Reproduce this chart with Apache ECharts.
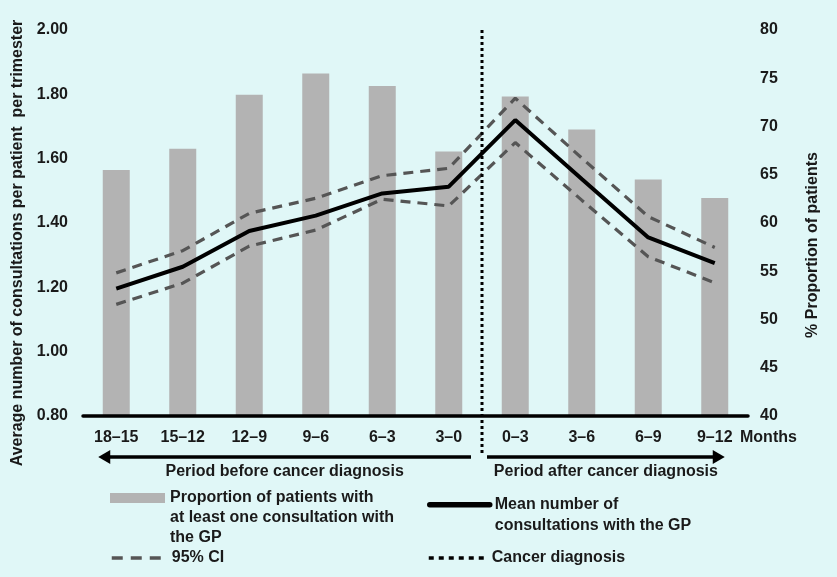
<!DOCTYPE html>
<html>
<head>
<meta charset="utf-8">
<script src="https://cdn.jsdelivr.net/npm/echarts@6/dist/echarts.min.js"></script>
<style>
html,body{margin:0;padding:0;background:#e0f7f7;}
#c{width:837px;height:577px;}
</style>
</head>
<body>
<div id="c"></div>
<script>
// ---- data ----
const categories = ['18–15','15–12','12–9','9–6','6–3','3–0','0–3','3–6','6–9','9–12'];
const proportionPct = [65.5, 67.7, 73.3, 75.5, 74.2, 67.4, 73.1, 69.7, 64.5, 62.6];
const meanConsult  = [1.196, 1.264, 1.375, 1.423, 1.492, 1.513, 1.720, 1.537, 1.355, 1.275];
const ciUpper      = [1.245, 1.314, 1.430, 1.477, 1.547, 1.570, 1.788, 1.602, 1.420, 1.324];
const ciLower      = [1.147, 1.213, 1.328, 1.378, 1.474, 1.453, 1.650, 1.471, 1.295, 1.214];
const leftAxisTicks  = [0.8, 1.0, 1.2, 1.4, 1.6, 1.8, 2.0];
const rightAxisTicks = [40, 45, 50, 55, 60, 65, 70, 75, 80];
const diagnosisAfterIndex = 5; // diagnosis falls between '3–0' and '0–3'

const barName  = 'Proportion of patients with\nat least one consultation with\nthe GP';
const meanName = 'Mean number of\nconsultations with the GP';
const ciName   = '95% CI';
const diagName = 'Cancer diagnosis';

const FONT = "'Liberation Sans', Arial, sans-serif";
const TXT = '#1a1a1a';
const BG = '#e0f7f7';

const chart = echarts.init(document.getElementById('c'), null, {renderer: 'canvas'});

const baseText = {fontFamily: FONT, fontSize: 16, fontWeight: 'bold', color: TXT};
// legend text: leading blank lines so the icon lines up with the first text line
const topAligned = name => '\n'.repeat(name.split('\n').length - 1) + name;

const option = {
  backgroundColor: BG,
  animation: false,
  textStyle: {fontFamily: FONT},
  grid: {left: 83, right: 89, top: 30, bottom: 161, containLabel: false, outerBoundsMode: 'none'},
  xAxis: {
    type: 'category',
    data: categories,
    boundaryGap: true,
    z: 5,
    axisLine: {lineStyle: {color: '#000', width: 3.5}},
    axisTick: {show: false},
    splitLine: {show: false},
    axisLabel: Object.assign({}, baseText, {margin: 14, interval: 0}),
    name: 'Months',
    nameLocation: 'end',
    nameGap: -8,
    nameMoveOverlap: false,
    nameTextStyle: Object.assign({}, baseText, {align: 'left', verticalAlign: 'top', padding: [14, 0, 0, 0]})
  },
  yAxis: [
    {
      type: 'value',
      position: 'left',
      min: leftAxisTicks[0],
      max: leftAxisTicks[leftAxisTicks.length - 1],
      interval: 0.2,
      axisLine: {show: false},
      axisTick: {show: false},
      splitLine: {show: false},
      axisLabel: Object.assign({}, baseText, {margin: 15, formatter: v => v.toFixed(2)}),
      name: 'Average number of consultations per patient  per trimester',
      nameLocation: 'middle',
      nameGap: 52,
      nameTextStyle: Object.assign({}, baseText, {padding: [0, 40, 0, 0]})
    },
    {
      type: 'value',
      position: 'right',
      min: rightAxisTicks[0],
      max: rightAxisTicks[rightAxisTicks.length - 1],
      interval: 5,
      axisLine: {show: false},
      axisTick: {show: false},
      splitLine: {show: false},
      axisLabel: Object.assign({}, baseText, {margin: 12}),
      name: '% Proportion of patients',
      nameLocation: 'middle',
      nameGap: 57,
      nameTextStyle: Object.assign({}, baseText, {padding: [0, 44, 0, 0]})
    }
  ],
  legend: [
    {
      data: [{name: barName, icon: 'rect'}],
      left: 110, top: 448, padding: 0, itemWidth: 55, itemHeight: 10,
      selectedMode: false,
      formatter: topAligned,
      textStyle: Object.assign({}, baseText, {lineHeight: 20})
    },
    {
      data: [{name: ciName, lineStyle: {width: 3.5, type: [11, 8]}, itemStyle: {opacity: 0}}],
      left: 110, top: 548, padding: 0, itemWidth: 55, itemHeight: 1,
      selectedMode: false,
      textStyle: Object.assign({}, baseText, {lineHeight: 20})
    },
    {
      data: [{name: meanName, lineStyle: {width: 5.5, cap: 'round'}, itemStyle: {opacity: 0}}],
      left: 427, top: 474, padding: 0, itemWidth: 60, itemHeight: 1,
      selectedMode: false,
      formatter: topAligned,
      textStyle: Object.assign({}, baseText, {lineHeight: 20.5})
    },
    {
      data: [{name: diagName, lineStyle: {width: 3.5, type: [5, 5]}, itemStyle: {opacity: 0}}],
      left: 427, top: 548, padding: 0, itemWidth: 58, itemHeight: 1,
      selectedMode: false,
      textStyle: Object.assign({}, baseText, {lineHeight: 20})
    }
  ],
  series: [
    {
      name: barName,
      type: 'bar',
      yAxisIndex: 1,
      data: proportionPct,
      barWidth: 27,
      itemStyle: {color: '#b3b3b3'},
      z: 2
    },
    {
      name: ciName,
      type: 'line',
      yAxisIndex: 0,
      data: ciUpper,
      symbol: 'none',
      itemStyle: {color: '#555555'},
      lineStyle: {color: '#555555', width: 3.2, type: [10, 7]},
      z: 3
    },
    {
      name: ciName,
      type: 'line',
      yAxisIndex: 0,
      data: ciLower,
      symbol: 'none',
      itemStyle: {color: '#555555'},
      lineStyle: {color: '#555555', width: 3.2, type: [10, 7]},
      z: 3
    },
    {
      name: meanName,
      type: 'line',
      yAxisIndex: 0,
      data: meanConsult,
      symbol: 'none',
      itemStyle: {color: '#000'},
      lineStyle: {color: '#000', width: 4},
      z: 4
    },
    {
      name: diagName,
      type: 'line',
      yAxisIndex: 0,
      data: [],
      symbol: 'none',
      itemStyle: {color: '#000'},
      lineStyle: {color: '#000', width: 3, type: [3, 3]},
      z: 4
    }
  ]
};

chart.setOption(option);

// ---- annotations positioned from the axes ----
const px = i => chart.convertToPixel({xAxisIndex: 0}, categories[i]);
const topY = chart.convertToPixel({yAxisIndex: 0}, leftAxisTicks[leftAxisTicks.length - 1]);
const botY = chart.convertToPixel({yAxisIndex: 0}, leftAxisTicks[0]);
const divX = (px(diagnosisAfterIndex) + px(diagnosisAfterIndex + 1)) / 2;
const arrowY = botY + 41;
const leftTip = px(0) - 18;
const leftEnd = divX - 11;
const rightStart = divX + 5;
const rightTip = px(categories.length - 1) + 10;
const headL = 12, headH = 7;

chart.setOption({
  graphic: [
    {
      type: 'line', z: 10,
      shape: {x1: divX, y1: topY, x2: divX, y2: botY + 39},
      style: {stroke: '#000', lineWidth: 3, lineDash: [3, 3]}
    },
    {
      type: 'line', z: 10,
      shape: {x1: leftTip + headL - 1, y1: arrowY, x2: leftEnd, y2: arrowY},
      style: {stroke: '#000', lineWidth: 3.5}
    },
    {
      type: 'polygon', z: 10,
      shape: {points: [[leftTip, arrowY], [leftTip + headL, arrowY - headH], [leftTip + headL, arrowY + headH]]},
      style: {fill: '#000'}
    },
    {
      type: 'line', z: 10,
      shape: {x1: rightStart, y1: arrowY, x2: rightTip - headL + 1, y2: arrowY},
      style: {stroke: '#000', lineWidth: 3.5}
    },
    {
      type: 'polygon', z: 10,
      shape: {points: [[rightTip, arrowY], [rightTip - headL, arrowY - headH], [rightTip - headL, arrowY + headH]]},
      style: {fill: '#000'}
    },
    {
      type: 'text', z: 10,
      x: (leftTip + leftEnd) / 2, y: botY + 56,
      style: {text: 'Period before cancer diagnosis', font: 'bold 16px ' + FONT, fill: TXT, align: 'center', verticalAlign: 'middle'}
    },
    {
      type: 'text', z: 10,
      x: (rightStart + rightTip) / 2, y: botY + 56,
      style: {text: 'Period after cancer diagnosis', font: 'bold 16px ' + FONT, fill: TXT, align: 'center', verticalAlign: 'middle'}
    }
  ]
});
</script>
</body>
</html>
